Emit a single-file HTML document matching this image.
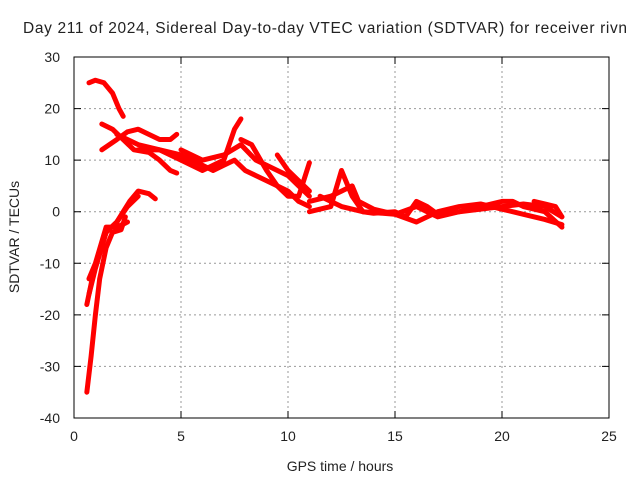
<!DOCTYPE html>
<html><head><meta charset="utf-8"><style>
body{margin:0;background:#fff}
svg text{font-family:"Liberation Sans",sans-serif;font-size:14px;fill:#222}
</style></head><body>
<svg width="640" height="480">
<text x="325" y="33" text-anchor="middle" style="font-size:15.5px" textLength="604">Day 211 of 2024, Sidereal Day-to-day VTEC variation (SDTVAR) for receiver rivn</text>
<g id="grid"></g>
<g id="series"></g>
<rect x="74" y="57" width="535" height="361" fill="none" stroke="#000" stroke-width="1"/>
<g id="ticks"></g>
<text x="340" y="471" text-anchor="middle">GPS time / hours</text>
<text x="19" y="237" text-anchor="middle" transform="rotate(-90 19 237)">SDTVAR / TECUs</text>
</svg>
<script>
const xTicks=[0,5,10,15,20,25];
const yTicks=[30,20,10,0,-10,-20,-30,-40];
const tracks=[
[[0.7,25],[1,25.5],[1.4,25],[1.8,23],[2.1,20],[2.3,18.5]],
[[1.3,17],[1.8,16],[2.3,14],[2.8,12],[3.5,11.5],[4,10],[4.5,8],[4.8,7.5]],
[[1.3,12],[2,14],[2.5,15.5],[3,16],[3.5,15],[4,14],[4.5,14],[4.8,15]],
[[2,15],[3,13],[4,12],[5,11],[6,9],[6.5,8],[7,9],[7.5,10],[8,8],[8.5,7],[9,6],[9.5,5],[10,4],[10.5,2],[11,1]],
[[3,12],[4,12],[5,10],[6,8],[7,10],[7.5,16],[7.8,18]],
[[5,12],[6,10],[7,11],[7.8,13],[8.5,10],[9,9],[10,7],[10.5,5],[11,3]],
[[7.8,14],[8.3,13],[9,8],[9.5,5],[10,3],[10.5,3],[11,9.5]],
[[9.5,11],[10,8],[10.5,6],[11,4]],
[[0.6,-35],[0.8,-28],[1,-20],[1.2,-13],[1.5,-7],[1.8,-4],[2.2,-3.5],[2.4,-1]],
[[0.6,-18],[0.9,-12],[1.2,-8],[1.5,-4],[2,-2],[2.3,0],[2.6,2],[3,4],[3.5,3.5],[3.8,2.5]],
[[0.7,-16],[1,-11],[1.5,-4],[2,-2],[2.5,1],[3,3]],
[[0.7,-13],[1,-10],[1.5,-3],[2,-3],[2.5,-2]],
[[11,2],[12,3],[12.5,4],[13,5],[13.3,2],[14,0.5],[15,-0.5],[16,1],[16.5,0],[17,-1],[18,0],[19,0.5],[20,1],[21,1.5],[22,1],[22.8,-1]],
[[11,0],[12,1],[12.5,8],[13,3],[13.5,0],[14,-0.3],[15,0],[15.5,-1],[16,2],[16.5,1],[17,-0.5],[18,0],[19,1],[20,2],[20.5,2],[21,1],[22,0],[22.8,-3]],
[[11.5,3],[12.5,1],[13.5,0],[15,-0.5],[16,-2],[16.5,-1],[17,0],[18,1],[19,1.5],[20,0.5],[21,-0.5],[22,-1.5],[22.8,-2.5]],
[[21.5,2],[22,1.5],[22.5,1],[22.8,-1]]
];
const NS="http://www.w3.org/2000/svg";
const X0=74,X1=609,Y0=418,Y1=57;
function sx(v){return X0+(v-0)/25*(X1-X0);}
function sy(v){return Y0-(v+40)/70*(Y0-Y1);}
function mk(t,a,p){const e=document.createElementNS(NS,t);for(const k in a)e.setAttribute(k,a[k]);p.appendChild(e);return e;}
const grid=document.getElementById('grid'),ticks=document.getElementById('ticks'),ser=document.getElementById('series');
xTicks.forEach(v=>{
 if(v>0&&v<25){const l=mk('line',{x1:sx(v),x2:sx(v),y1:Y0,y2:Y1,stroke:'#999','stroke-dasharray':'2,3'},grid);
 
 }
 const m=mk('path',{d:`M${sx(v)},${Y0}v-7M${sx(v)},${Y1}v7`,stroke:'#000'},ticks);
 
 
 const t=mk('text',{x:sx(v),y:Y0+23,'text-anchor':'middle'},ticks);t.textContent=v;
 
 
});
yTicks.forEach(v=>{
 if(v<30&&v>-40){const l=mk('line',{x1:X0,x2:X1,y1:sy(v),y2:sy(v),stroke:'#999','stroke-dasharray':'2,3'},grid);
 
 }
 const m=mk('path',{d:`M${X0},${sy(v)}h7M${X1},${sy(v)}h-7`,stroke:'#000'},ticks);
 
 
 const t=mk('text',{x:X0-14,y:sy(v)+5,'text-anchor':'end'},ticks);t.textContent=v;
 
 
});
tracks.forEach(tr=>{
 const pl=mk('polyline',{points:tr.map(p=>sx(p[0])+','+sy(p[1])).join(' '),fill:'none',stroke:'#f00','stroke-width':5,'stroke-linejoin':'round','stroke-linecap':'round'},ser);
 
 
});
</script>
</body></html>
